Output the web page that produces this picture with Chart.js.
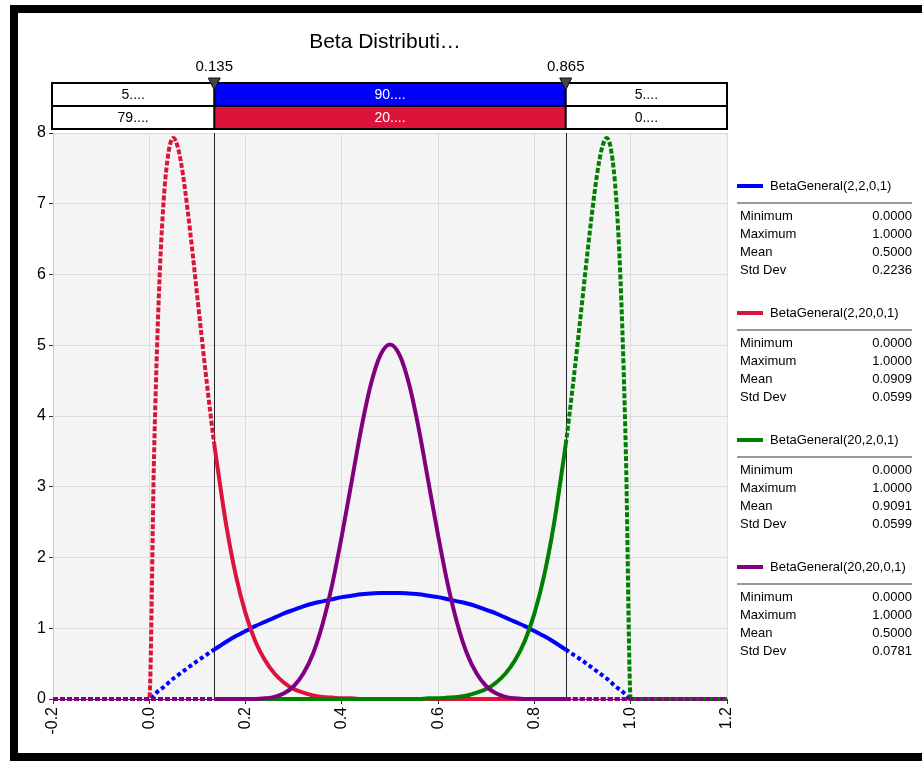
<!DOCTYPE html>
<html>
<head>
<meta charset="utf-8">
<script src="https://cdn.jsdelivr.net/npm/chart.js@4.4.1/dist/chart.umd.min.js"></script>
<style>
  body { margin: 0; background: #fff; overflow: hidden; }
  #wrap { position: relative; width: 922px; height: 761px; }
  #frame { position: absolute; left: 10px; top: 5px; width: 940px; height: 740px; border: 8px solid #000; pointer-events: none; }
</style>
</head>
<body>
<div id="wrap">
  <canvas id="myChart" width="922" height="761"></canvas>
  <div id="frame"></div>
</div>
<script>
// x positions shared by all curves
const xs = [-0.2, 0.00, 0.01, 0.02, 0.03, 0.04, 0.05, 0.06, 0.07, 0.08, 0.09, 0.10,
  0.12, 0.135, 0.14, 0.16, 0.18, 0.20, 0.22, 0.24, 0.26, 0.28, 0.30, 0.32, 0.34, 0.36, 0.38,
  0.40, 0.42, 0.44, 0.46, 0.48, 0.50, 0.52, 0.54, 0.56, 0.58, 0.60, 0.62, 0.64, 0.66, 0.68,
  0.70, 0.72, 0.74, 0.76, 0.78, 0.80, 0.82, 0.84, 0.86, 0.865, 0.88,
  0.90, 0.91, 0.92, 0.93, 0.94, 0.95, 0.96, 0.97, 0.98, 0.99, 1.00, 1.2];

const blueVals = [0, 0, 0.06, 0.12, 0.17, 0.23, 0.29, 0.34, 0.39, 0.44, 0.49, 0.54,
  0.63, 0.70, 0.72, 0.81, 0.89, 0.96, 1.03, 1.09, 1.15, 1.21, 1.26, 1.31, 1.35, 1.38, 1.41,
  1.44, 1.46, 1.48, 1.49, 1.50, 1.50, 1.50, 1.49, 1.48, 1.46, 1.44, 1.41, 1.38, 1.35, 1.31,
  1.26, 1.21, 1.15, 1.09, 1.03, 0.96, 0.89, 0.81, 0.72, 0.70, 0.63,
  0.54, 0.49, 0.44, 0.39, 0.34, 0.29, 0.23, 0.17, 0.12, 0.06, 0, 0];

const redVals = [0, 0, 3.47, 5.72, 7.06, 7.73, 7.93, 7.78, 7.41, 6.89, 6.30, 5.67,
  4.44, 3.60, 3.36, 2.45, 1.74, 1.21, 0.82, 0.55, 0.36, 0.23, 0.14, 0.09, 0.05, 0.03, 0.02,
  0.01, 0.01, 0, 0, 0, 0, 0, 0, 0, 0, 0, 0, 0, 0, 0,
  0, 0, 0, 0, 0, 0, 0, 0, 0, 0, 0,
  0, 0, 0, 0, 0, 0, 0, 0, 0, 0, 0, 0];

const greenVals = [0, 0, 0, 0, 0, 0, 0, 0, 0, 0, 0, 0,
  0, 0, 0, 0, 0, 0, 0, 0, 0, 0, 0, 0, 0, 0, 0,
  0, 0, 0, 0, 0, 0, 0, 0, 0, 0.01, 0.01, 0.02, 0.03, 0.05, 0.09,
  0.14, 0.23, 0.36, 0.55, 0.82, 1.21, 1.74, 2.45, 3.36, 3.60, 4.44,
  5.67, 6.30, 6.89, 7.41, 7.78, 7.93, 7.73, 7.06, 5.72, 3.47, 0, 0];

const purpleVals = [0, 0, 0, 0, 0, 0, 0, 0, 0, 0, 0, 0,
  0, 0, 0, 0, 0, 0, 0, 0.01, 0.03, 0.08, 0.18, 0.36, 0.64, 1.06, 1.62,
  2.31, 3.06, 3.81, 4.44, 4.86, 5.01, 4.86, 4.44, 3.81, 3.06, 2.31, 1.62, 1.06, 0.64, 0.36,
  0.18, 0.08, 0.03, 0.01, 0, 0, 0, 0, 0, 0, 0,
  0, 0, 0, 0, 0, 0, 0, 0, 0, 0, 0, 0];

const cutoffs = [0.135, 0.865];
const bandRow1 = ['5....', '90....', '5....'];
const bandRow2 = ['79....', '20....', '0....'];

const seriesNames = ['BetaGeneral(2,2,0,1)', 'BetaGeneral(2,20,0,1)', 'BetaGeneral(20,2,0,1)', 'BetaGeneral(20,20,0,1)'];
const seriesColors = ['#0000ff', '#dc143c', '#008000', '#800080'];
const statNames = ['Minimum', 'Maximum', 'Mean', 'Std Dev'];
const statMin = ['0.0000', '0.0000', '0.0000', '0.0000'];
const statMax = ['1.0000', '1.0000', '1.0000', '1.0000'];
const statMean = ['0.5000', '0.0909', '0.9091', '0.5000'];
const statSd = ['0.2236', '0.0599', '0.0599', '0.0781'];

const FONT = '"Liberation Sans", Arial, sans-serif';

function outside(ctx) {
  const mx = (ctx.p0.parsed.x + ctx.p1.parsed.x) / 2;
  return mx < cutoffs[0] || mx > cutoffs[1];
}

const allVals = [blueVals, redVals, greenVals, purpleVals];
const orders = [4, 3, 2, 1];
const dashes = [[4, 3], [5, 2], [5, 2], [5, 2]];
const datasets = allVals.map((vals, i) => ({
  label: seriesNames[i],
  data: xs.map((x, j) => ({ x: x, y: vals[j] })),
  showLine: true,
  borderColor: seriesColors[i],
  borderWidth: 4,
  pointRadius: 0,
  cubicInterpolationMode: 'monotone',
  order: orders[i],
  clip: { left: 0, right: 0, top: 4, bottom: 4 },
  segment: {
    borderDash: ctx => outside(ctx) ? dashes[i] : undefined
  }
}));

const decorPlugin = {
  id: 'decor',
  beforeDraw(chart) {
    const { ctx, chartArea: a } = chart;
    ctx.save();
    ctx.fillStyle = '#ffffff';
    ctx.fillRect(0, 0, chart.width, chart.height);
    ctx.fillStyle = '#f4f4f4';
    ctx.fillRect(a.left, a.top, a.right - a.left, a.bottom - a.top);
    ctx.restore();
  },
  beforeDatasetsDraw(chart) {
    const { ctx, chartArea: a, scales } = chart;
    ctx.save();
    ctx.strokeStyle = '#222';
    ctx.lineWidth = 1;
    cutoffs.forEach(c => {
      const px = Math.round(scales.x.getPixelForValue(c)) + 0.5;
      ctx.beginPath();
      ctx.moveTo(px, a.top);
      ctx.lineTo(px, a.bottom);
      ctx.stroke();
    });
    ctx.restore();
  },
  afterDraw(chart) {
    const { ctx, chartArea: a, scales } = chart;
    ctx.save();
    // title
    ctx.fillStyle = '#000';
    ctx.font = '21px ' + FONT;
    ctx.textAlign = 'center';
    ctx.textBaseline = 'middle';
    ctx.fillText('Beta Distributi\u2026', 385, 42);

    // bands
    const p1 = scales.x.getPixelForValue(cutoffs[0]);
    const p2 = scales.x.getPixelForValue(cutoffs[1]);
    const edges = [a.left - 1, p1, p2, a.right];
    const rows = [
      { y: 83, texts: bandRow1, fill: '#0000ff' },
      { y: 106, texts: bandRow2, fill: '#dc143c' }
    ];
    const rh = 23;
    rows.forEach(r => {
      for (let k = 0; k < 3; k++) {
        const x0 = edges[k], x1 = edges[k + 1];
        ctx.fillStyle = k === 1 ? r.fill : '#fff';
        ctx.fillRect(x0, r.y, x1 - x0, rh);
        ctx.fillStyle = k === 1 ? '#fff' : '#000';
        ctx.font = '14px ' + FONT;
        ctx.fillText(r.texts[k], (x0 + x1) / 2, r.y + rh / 2 + 1);
      }
    });
    ctx.strokeStyle = '#000';
    ctx.lineWidth = 2;
    ctx.strokeRect(edges[0], 83, edges[3] - edges[0], rh * 2);
    ctx.beginPath();
    ctx.moveTo(edges[0], 106); ctx.lineTo(edges[3], 106);
    ctx.moveTo(p1, 83); ctx.lineTo(p1, 129);
    ctx.moveTo(p2, 83); ctx.lineTo(p2, 129);
    ctx.stroke();

    // cutoff markers
    cutoffs.forEach(c => {
      const px = scales.x.getPixelForValue(c);
      ctx.fillStyle = '#444';
      ctx.strokeStyle = '#111';
      ctx.lineWidth = 1;
      ctx.beginPath();
      ctx.moveTo(px - 6, 78);
      ctx.lineTo(px + 6, 78);
      ctx.lineTo(px, 90);
      ctx.closePath();
      ctx.fill();
      ctx.stroke();
      ctx.fillStyle = '#000';
      ctx.font = '15px ' + FONT;
      ctx.fillText(c.toFixed(3), px, 67);
    });

    // legend
    const lx = 737, rx = 912;
    seriesNames.forEach((name, i) => {
      const y0 = 186 + i * 127;
      ctx.fillStyle = seriesColors[i];
      ctx.fillRect(lx, y0 - 2, 26, 4);
      ctx.fillStyle = '#000';
      ctx.font = '13px ' + FONT;
      ctx.textAlign = 'left';
      ctx.fillText(name, 770, y0);
      ctx.fillStyle = '#999';
      ctx.fillRect(lx, y0 + 16, rx - lx, 2);
      const vals = [statMin[i], statMax[i], statMean[i], statSd[i]];
      statNames.forEach((s, k) => {
        const yy = y0 + 30 + k * 18;
        ctx.fillStyle = '#000';
        ctx.textAlign = 'left';
        ctx.fillText(s, 740, yy);
        ctx.textAlign = 'right';
        ctx.fillText(vals[k], rx, yy);
      });
    });
    ctx.restore();
  }
};

const config = {
  type: 'scatter',
  data: { datasets: datasets },
  options: {
    responsive: false,
    animation: false,
    devicePixelRatio: 1,
    layout: { padding: { left: 20, right: 195, top: 133, bottom: 12 } },
    plugins: {
      legend: { display: false },
      tooltip: { enabled: false }
    },
    scales: {
      x: {
        type: 'linear',
        min: -0.2,
        max: 1.2,
        afterFit(s) { s.height = 50; },
        grid: { color: '#dcdcdc', tickColor: '#333', tickLength: 5 },
        border: { color: '#333' },
        ticks: {
          stepSize: 0.2,
          minRotation: 90,
          maxRotation: 90,
          color: '#000',
          font: { size: 16, family: FONT },
          callback: v => (Math.abs(v) < 1e-9 ? 0 : Number(v)).toFixed(1)
        }
      },
      y: {
        min: 0,
        max: 8,
        afterFit(s) { s.width = 33; },
        grid: { color: '#dcdcdc', tickColor: '#333', tickLength: 4 },
        border: { color: '#ccc' },
        ticks: {
          stepSize: 1,
          color: '#000',
          font: { size: 16, family: FONT }
        }
      }
    }
  },
  plugins: [decorPlugin]
};

const myChart = new Chart(document.getElementById('myChart'), config);
</script>
</body>
</html>
